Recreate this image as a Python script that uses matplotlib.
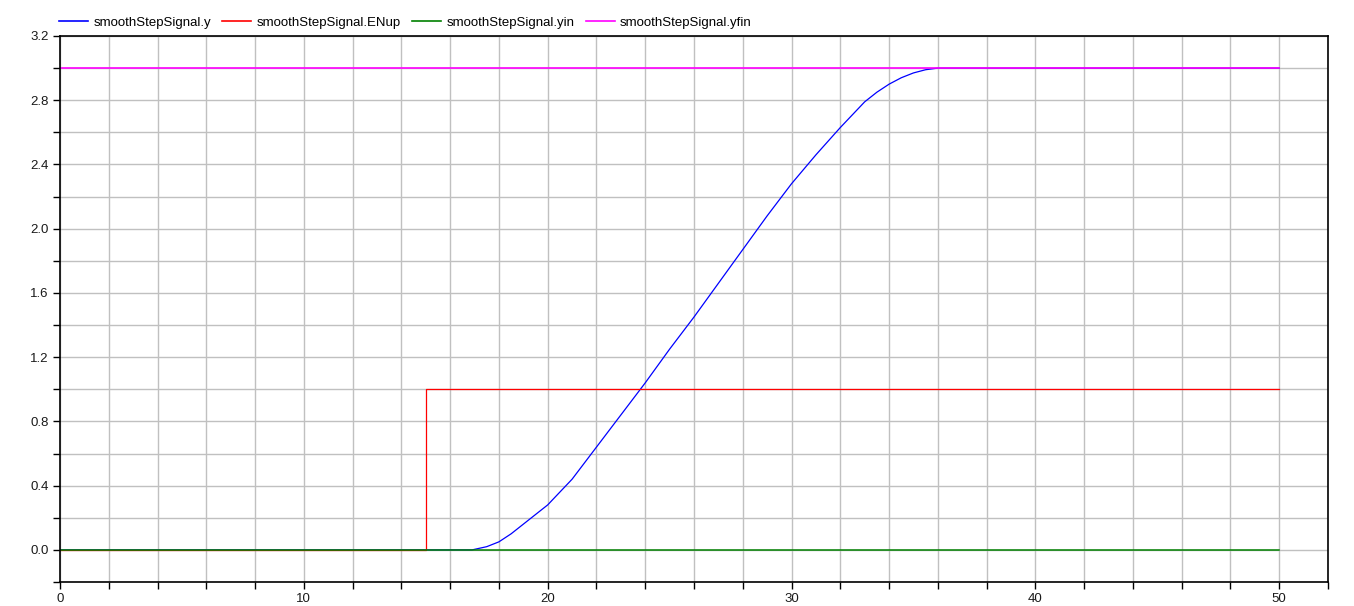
import numpy as np
import matplotlib
matplotlib.use("Agg")
from matplotlib import pyplot as plt
from matplotlib.ticker import MultipleLocator, FormatStrFormatter

# smoothStepSignal.y
t_y = [0, 16.9, 17.5, 18, 18.5, 19, 19.5, 20, 20.5, 21, 21.5, 22, 23, 24, 25, 26, 27,
       28, 29, 30, 31, 32, 32.5, 33, 33.5, 34, 34.5, 35, 35.5, 36, 50]
y = [0, 0, 0.02, 0.05, 0.10, 0.16, 0.22, 0.28, 0.36, 0.44, 0.54, 0.64, 0.84, 1.04,
     1.25, 1.45, 1.66, 1.87, 2.08, 2.28, 2.46, 2.63, 2.71, 2.79, 2.85, 2.90, 2.94,
     2.97, 2.99, 3.0, 3.0]

t_enup = [0, 15, 15, 50]
enup = [0, 0, 1, 1]

t_yin = [0, 50]
yin = [0, 0]

t_yfin = [0, 50]
yfin = [3, 3]

plt.rcParams['font.family'] = ['Liberation Sans', 'DejaVu Sans']

fig = plt.figure(figsize=(13.54, 6.06), dpi=100)
ax = fig.add_axes([0.0443, 0.0396, 0.9365, 0.901])

lw = 0.9
ax.plot(t_y, y, color='blue', lw=lw, label='smoothStepSignal.y')
ax.plot(t_enup, enup, color='red', lw=lw, label='smoothStepSignal.ENup')
ax.plot(t_yin, yin, color='green', lw=1.1, label='smoothStepSignal.yin')
# slightly wider so the flat end of y (also 3.0) is hidden below it
ax.plot(t_yfin, yfin, color='magenta', lw=1.2, label='smoothStepSignal.yfin')

ax.set_xlim(0, 52)
ax.set_ylim(-0.2, 3.2)
ax.xaxis.set_major_locator(MultipleLocator(10))
ax.xaxis.set_minor_locator(MultipleLocator(2))
ax.yaxis.set_major_locator(MultipleLocator(0.4))
ax.yaxis.set_minor_locator(MultipleLocator(0.2))
ax.yaxis.set_major_formatter(FormatStrFormatter('%.1f'))

ax.grid(True, which='both', color='#c0c0c0', lw=1.0)
ax.set_axisbelow(True)
ax.tick_params(which='both', direction='out', length=5, width=1,
               labelsize=9.5, colors='black', labelcolor='#1a1a1a', pad=3)
for s in ax.spines.values():
    s.set_linewidth(1.2)

leg = fig.legend(loc='upper left', bbox_to_anchor=(0.035, 0.992), ncol=4, frameon=False,
                 fontsize=9.5, handlelength=2.2, handletextpad=0.4, columnspacing=0.85)
for h in leg.get_lines():
    h.set_linewidth(1.2)

fig.savefig('out.png', dpi=100)
